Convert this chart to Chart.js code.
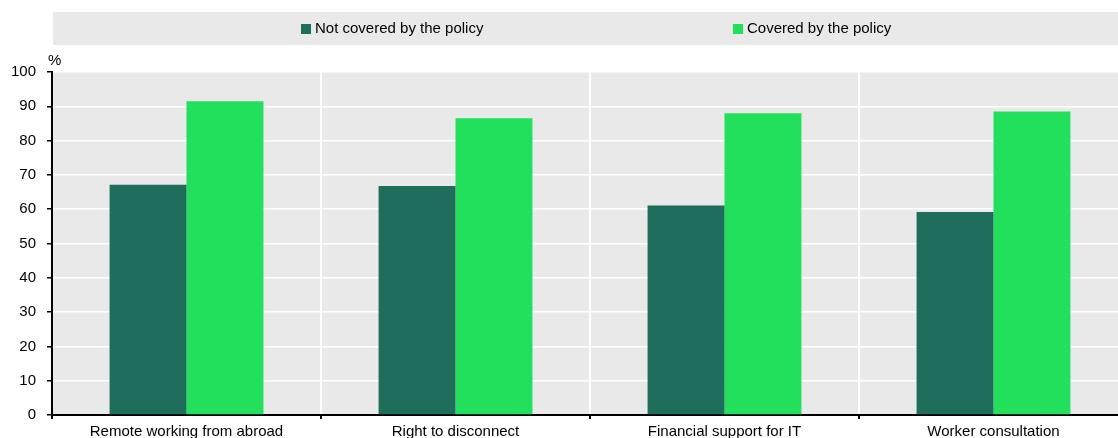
<!DOCTYPE html>
<html><head><meta charset="utf-8">
<script src="https://cdn.jsdelivr.net/npm/chart.js@4"></script>
<style>html,body{margin:0;padding:0;background:#fff;overflow:hidden}#wrap{width:1128px;height:438px}</style>
</head><body><div id="wrap"><canvas id="c" width="1128" height="438"></canvas></div>
<script>
const categories = ['Remote working from abroad', 'Right to disconnect', 'Financial support for IT', 'Worker consultation'];
const seriesLabels = ['Not covered by the policy', 'Covered by the policy'];
const notCovered = [67.1, 66.8, 61.1, 59.2];
const covered = [91.5, 86.5, 88.0, 88.5];
const unitLabel = '%';
const yMin = 0, yMax = 100, yStep = 10;

const colors = ['#1f6e5c', '#22e05c'];
const FONT = '"Liberation Sans", Arial, sans-serif';
const FSIZE = 15;

const decor = {
  id: 'decor',
  beforeDraw(chart) {
    const {ctx, chartArea: a} = chart;
    ctx.save();
    ctx.fillStyle = '#e9e9e9';
    ctx.fillRect(53, 12, chart.width - 53, 33);
    ctx.fillRect(a.left, a.top, a.right - a.left, a.bottom - a.top);
    ctx.restore();
  },
  afterDraw(chart) {
    const {ctx, chartArea: a} = chart;
    ctx.save();
    ctx.font = FSIZE + 'px ' + FONT;
    ctx.textBaseline = 'middle';
    ctx.textAlign = 'left';
    const xs = [301, 733];
    chart.data.datasets.forEach((ds, i) => {
      ctx.fillStyle = ds.backgroundColor;
      ctx.fillRect(xs[i], 24, 10, 10);
      ctx.fillStyle = '#000';
      ctx.fillText(ds.label, xs[i] + 14, 29);
    });
    ctx.fillText(unitLabel, a.left - 4, a.top - 11);
    ctx.restore();
  }
};

new Chart(document.getElementById('c'), {
  type: 'bar',
  data: {
    labels: categories,
    datasets: [
      {label: seriesLabels[0], data: notCovered, backgroundColor: colors[0]},
      {label: seriesLabels[1], data: covered, backgroundColor: colors[1]}
    ]
  },
  options: {
    responsive: false,
    animation: false,
    layout: {padding: {top: 72, right: 0, bottom: 0, left: 0}},
    plugins: {legend: {display: false}, tooltip: {enabled: false}},
    datasets: {bar: {categoryPercentage: 0.572, barPercentage: 1.0}},
    scales: {
      x: {
        afterFit(s) { s.height = 23; },
        grid: {color: '#ffffff', lineWidth: 2, tickColor: '#000', tickLength: 4, offset: true},
        border: {color: '#000', width: 2},
        ticks: {color: '#000', font: {family: FONT, size: FSIZE}, padding: 4}
      },
      y: {
        min: yMin, max: yMax,
        afterFit(s) { s.width = 52; },
        grid: {color: '#ffffff', lineWidth: 1.5, tickColor: '#000', tickLength: 5},
        border: {color: '#000', width: 2},
        ticks: {stepSize: yStep, color: '#000', font: {family: FONT, size: FSIZE}, padding: 11}
      }
    }
  },
  plugins: [decor]
});
</script></body></html>
